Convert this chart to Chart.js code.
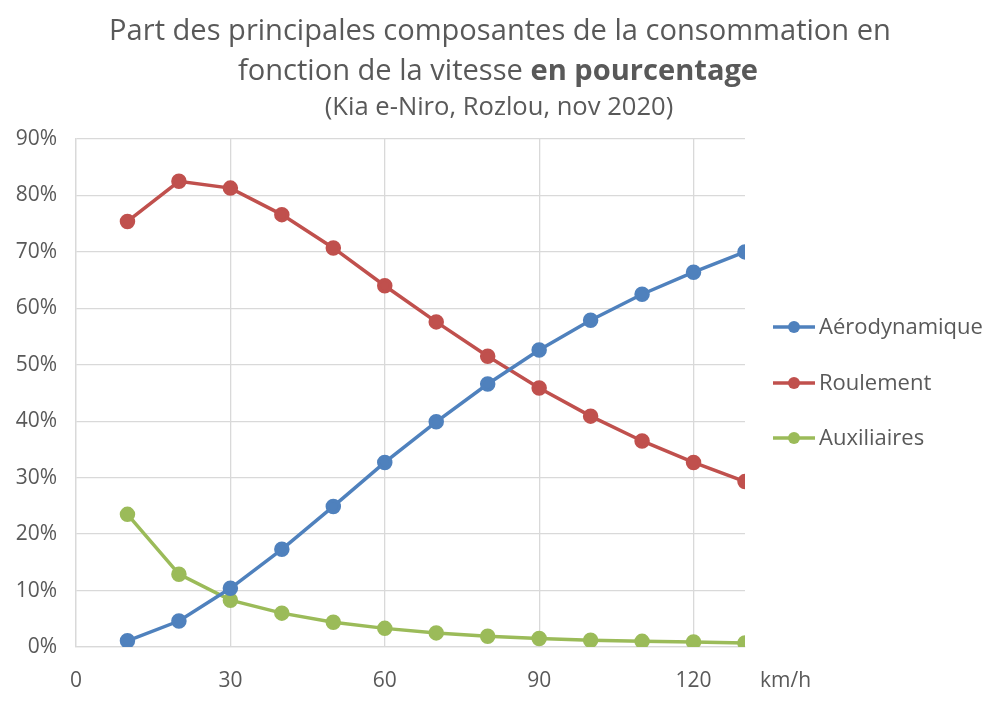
<!DOCTYPE html>
<html>
<head>
<meta charset="utf-8">
<script src="https://cdn.jsdelivr.net/npm/chart.js@4"></script>
<style>
  html, body { margin: 0; padding: 0; background: #fff; }
  #wrap { width: 1000px; height: 701px; }
</style>
</head>
<body>
<div id="wrap"><canvas id="chart" width="1000" height="701"></canvas></div>
<script>
const speeds = [10, 20, 30, 40, 50, 60, 70, 80, 90, 100, 110, 120, 130];
const aero = [1.1, 4.6, 10.4, 17.3, 24.9, 32.7, 39.9, 46.6, 52.6, 57.9, 62.5, 66.4, 70.0];
const roulement = [75.4, 82.5, 81.3, 76.6, 70.7, 64.0, 57.6, 51.5, 45.9, 40.9, 36.5, 32.7, 29.3];
const auxiliaires = [23.5, 12.9, 8.3, 6.0, 4.4, 3.3, 2.5, 1.9, 1.5, 1.2, 1.0, 0.9, 0.7];
const seriesNames = ['Aérodynamique', 'Roulement', 'Auxiliaires'];
const seriesColors = ['#4F81BD', '#C0504D', '#9BBB59'];
const xTicks = [0, 30, 60, 90, 120];

const FONT = '"Open Sans", "DejaVu Sans", sans-serif';
const TXT = '#595959';

function pts(values) {
  return speeds.map((s, i) => ({ x: s, y: values[i] }));
}

function mkSet(i, values) {
  return {
    label: seriesNames[i],
    data: pts(values),
    borderColor: seriesColors[i],
    backgroundColor: seriesColors[i],
    pointBackgroundColor: seriesColors[i],
    pointBorderColor: seriesColors[i],
    pointRadius: 6,
    borderWidth: 3.5,
    tension: 0
  };
}

// title with a bold part, subtitle, km/h unit and right-side legend
const decorPlugin = {
  id: 'decor',
  afterDraw(chart) {
    const ctx = chart.ctx;
    const area = chart.chartArea;
    ctx.save();
    ctx.fillStyle = TXT;
    ctx.textBaseline = 'middle';

    // title line 1, fitted to width
    const line1 = 'Part des principales composantes de la consommation en';
    let size = 28;
    ctx.font = size + 'px ' + FONT;
    size = size * 782 / ctx.measureText(line1).width;
    ctx.font = size + 'px ' + FONT;
    ctx.textAlign = 'center';
    ctx.fillText(line1, 500, 32);

    // title line 2 mixed weight
    const a = 'fonction de la vitesse ';
    const b = 'en pourcentage';
    ctx.font = size + 'px ' + FONT;
    const wa = ctx.measureText(a).width;
    ctx.font = 'bold ' + size + 'px ' + FONT;
    const wb = ctx.measureText(b).width;
    let x0 = 498 - (wa + wb) / 2;
    ctx.textAlign = 'left';
    ctx.font = size + 'px ' + FONT;
    ctx.fillText(a, x0, 72);
    ctx.font = 'bold ' + size + 'px ' + FONT;
    ctx.fillText(b, x0 + wa, 72);

    // subtitle
    ctx.textAlign = 'center';
    ctx.font = (size * 0.88) + 'px ' + FONT;
    ctx.fillText('(Kia e-Niro, Rozlou, nov 2020)', 499, 108);

    // unit
    ctx.textAlign = 'left';
    ctx.font = '21px ' + FONT;
    ctx.fillText('km/h', area.right + 15, 681);

    // legend
    const ly = [327, 383, 438];
    seriesNames.forEach((name, i) => {
      const y = ly[i];
      ctx.strokeStyle = seriesColors[i];
      ctx.fillStyle = seriesColors[i];
      ctx.lineWidth = 3.5;
      ctx.beginPath();
      ctx.moveTo(773, y);
      ctx.lineTo(815, y);
      ctx.stroke();
      ctx.beginPath();
      ctx.arc(794, y, 6, 0, Math.PI * 2);
      ctx.fill();
      ctx.fillStyle = TXT;
      ctx.font = '22px ' + FONT;
      ctx.fillText(name, 819, y + 1);
    });
    ctx.restore();
  }
};

new Chart(document.getElementById('chart'), {
  type: 'line',
  data: {
    datasets: [mkSet(0, aero), mkSet(1, roulement), mkSet(2, auxiliaires)]
  },
  options: {
    responsive: false,
    animation: false,
    layout: { padding: { top: 139, right: 255, bottom: 0, left: 0 } },
    plugins: {
      legend: { display: false },
      tooltip: { enabled: false }
    },
    scales: {
      x: {
        type: 'linear',
        min: 0,
        max: 130,
        afterBuildTicks: scale => { scale.ticks = xTicks.map(v => ({ value: v })); },
        afterFit: scale => { scale.height = 54; },
        ticks: { font: { size: 21, family: FONT }, color: TXT, padding: 21, maxRotation: 0 },
        grid: { color: '#D9D9D9', lineWidth: 1.3, drawTicks: false },
        border: { color: '#D9D9D9', width: 1.3 }
      },
      y: {
        min: 0,
        max: 90,
        afterFit: scale => { scale.width = 76; },
        ticks: { stepSize: 10, font: { size: 21, family: FONT }, color: TXT, padding: 19, callback: v => v + '%' },
        grid: { color: '#D9D9D9', lineWidth: 1.3, drawTicks: false },
        border: { color: '#D9D9D9', width: 1.3 }
      }
    }
  },
  plugins: [decorPlugin]
});
</script>
</body>
</html>
